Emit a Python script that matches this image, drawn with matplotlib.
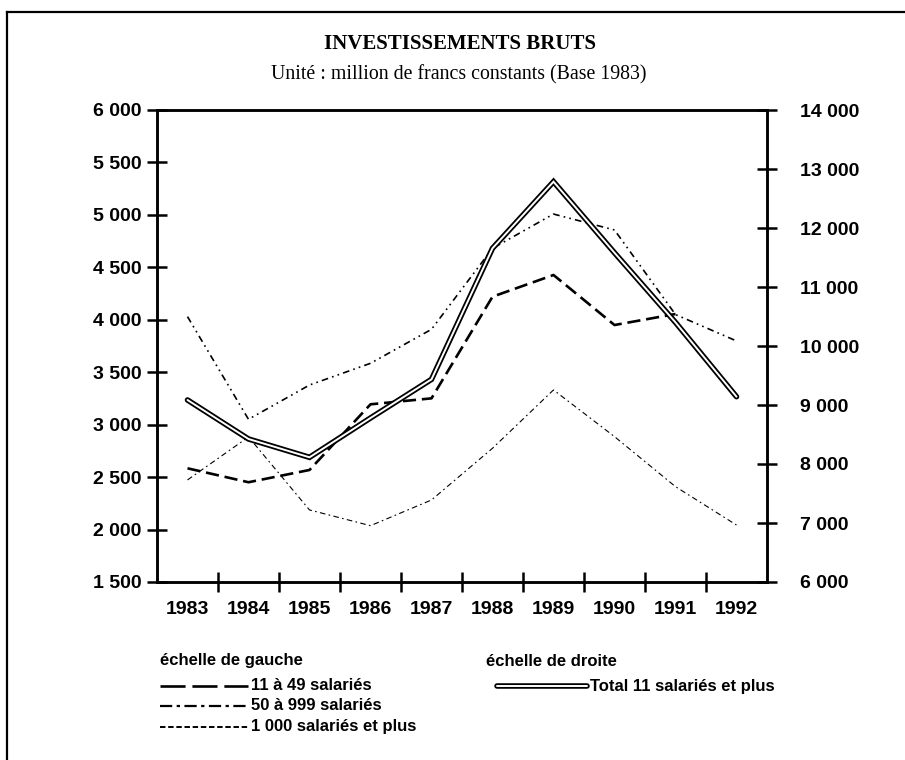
import matplotlib
matplotlib.use("Agg")
import matplotlib.pyplot as plt
import numpy as np
from matplotlib.lines import Line2D

years = ["1983", "1984", "1985", "1986", "1987", "1988", "1989", "1990", "1991", "1992"]
s_11_49 = [2584, 2451, 2568, 3194, 3251, 4220, 4427, 3950, 4055, np.nan]
s_50_999 = [4030, 3051, 3378, 3585, 3909, 4681, 5008, 4856, 4050, 3798]
s_1000 = [2473, 2883, 2187, 2037, 2282, 2775, 3331, 2886, 2409, 2043]
total = [9085, 8424, 8113, 8780, 9435, 11656, 12785, 11580, 10400, 9141]

left_ticks = [1500, 2000, 2500, 3000, 3500, 4000, 4500, 5000, 5500, 6000]
right_ticks = [6000, 7000, 8000, 9000, 10000, 11000, 12000, 13000, 14000]

title = "INVESTISSEMENTS BRUTS"
subtitle = "Unité : million de francs constants (Base 1983)"
lab_11 = "11 à 49 salariés"
lab_50 = "50 à 999 salariés"
lab_1000 = "1 000 salariés et plus"
lab_total = "Total 11 salariés et plus"

def fmt(v):
    return f"{v:,}".replace(",", " ")

plt.rcParams['font.family'] = ['Liberation Sans', 'DejaVu Sans']

W, H = 905, 760
fig = plt.figure(figsize=(W / 100, H / 100), dpi=100)

def fx(px):
    return px / W

def fy(py):
    return 1 - py / H

ax = fig.add_axes([fx(157), fy(582), fx(767) - fx(157), fy(110) - fy(582)])
ax2 = ax.twinx()

x = np.arange(len(years))

st_11 = dict(color="black", lw=1.9, dashes=(5, 2.2))
st_50 = dict(color="black", lw=1.2, dashes=(4, 2.5, 1, 2.5, 1, 2.5))
st_1000 = dict(color="black", lw=0.8, dashes=(5, 3, 1.5, 3))

ax.plot(x, s_11_49, **st_11)
ax.plot(x, s_50_999, **st_50)
ax.plot(x, s_1000, **st_1000)

ax2.plot(x, total, color="black", lw=4.0, solid_capstyle="round", solid_joinstyle="miter")
ax2.plot(x, total, color="white", lw=1.4, solid_capstyle="round", solid_joinstyle="miter")

ax.set_xlim(-0.5, len(years) - 0.5)
ax.set_ylim(1500, 6000)
ax2.set_ylim(6000, 14000)

ax.set_yticks(left_ticks)
ax.set_yticklabels([fmt(v) for v in left_ticks])
ax2.set_yticks(right_ticks)
ax2.set_yticklabels([fmt(v) for v in right_ticks])

ax.set_xticks(np.arange(len(years) - 1) + 0.5)
ax.set_xticklabels([])
ax.set_xticks(x, minor=True)
ax.set_xticklabels(years, minor=True)

for a in (ax, ax2):
    for sp in a.spines.values():
        sp.set_linewidth(1.8)
        sp.set_color("black")

tfs = 14
ax.tick_params(axis="y", direction="inout", length=14, width=1.8, labelsize=tfs, pad=4)
ax2.tick_params(axis="y", direction="inout", length=14, width=1.8, labelsize=tfs, pad=17)
ax.tick_params(axis="x", which="major", direction="inout", length=14, width=1.8)
ax.tick_params(axis="x", which="minor", length=0, labelsize=tfs, pad=14)

for lbl in ax.get_yticklabels() + ax2.get_yticklabels() + ax.get_xticklabels(minor=True):
    lbl.set_fontweight("bold")

# Titles
fig.text(fx(460), fy(44), title, ha="center", va="center", fontsize=15,
         family=["Liberation Serif", "DejaVu Serif"], fontweight="bold")
fig.text(fx(459), fy(75), subtitle, ha="center", va="center", fontsize=14.3,
         family=["Liberation Serif", "DejaVu Serif"])

# Legend
lfs = 12
fig.text(fx(160), fy(661), "échelle de gauche", ha="left", va="center", fontsize=lfs, fontweight="bold")
fig.text(fx(486), fy(661), "échelle de droite", ha="left", va="center", fontsize=lfs, fontweight="bold")

leg_11 = dict(color="black", lw=1.9, dashes=(9.5, 2.6))
leg_50 = dict(color="black", lw=1.6, dashes=(5.5, 2, 1.5, 2))
leg_1000 = dict(color="black", lw=1.4, dashes=(2.8, 1.4))
rows = [(686, lab_11, leg_11), (706, lab_50, leg_50), (727, lab_1000, leg_1000)]
for py, lab, st in rows:
    fig.add_artist(Line2D([fx(160), fx(248)], [fy(py), fy(py)], transform=fig.transFigure, **st))
    fig.text(fx(251), fy(py), lab, ha="left", va="center", fontsize=lfs, fontweight="bold")

fig.add_artist(Line2D([fx(497), fx(587)], [fy(686), fy(686)], transform=fig.transFigure,
                      color="black", lw=4.0, solid_capstyle="round"))
fig.add_artist(Line2D([fx(497), fx(587)], [fy(686), fy(686)], transform=fig.transFigure,
                      color="white", lw=1.4, solid_capstyle="round"))
fig.text(fx(590), fy(686), lab_total, ha="left", va="center", fontsize=lfs, fontweight="bold")

# Frame lines (top and left)
fig.add_artist(Line2D([fx(7), fx(905)], [fy(12), fy(12)], transform=fig.transFigure, color="black", lw=1.6))
fig.add_artist(Line2D([fx(7), fx(7)], [fy(12), fy(760)], transform=fig.transFigure, color="black", lw=1.6))

fig.savefig("out.png", dpi=100)
